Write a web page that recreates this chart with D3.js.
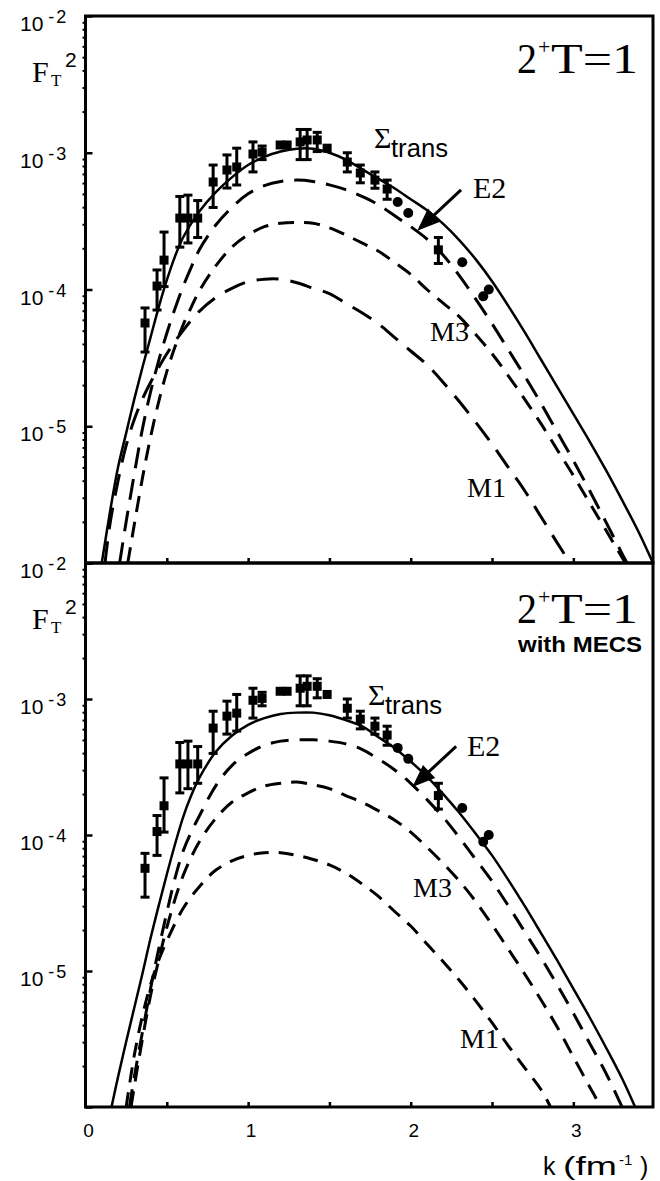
<!DOCTYPE html>
<html>
<head>
<meta charset="utf-8">
<script src="https://cdnjs.cloudflare.com/ajax/libs/d3/7.8.5/d3.min.js"></script>
<style>
body { margin: 0; background: #fff; }
</style>
</head>
<body>
<svg class="plot" width="660" height="1181"></svg>
<script>
// measured points (same data set in both panels)
var dataK  = [0.366, 0.44, 0.483, 0.58, 0.63, 0.69, 0.785, 0.87, 0.93, 1.03, 1.086, 1.197, 1.24, 1.32, 1.363, 1.425, 1.486, 1.61, 1.69, 1.78, 1.855, 1.92, 1.985, 2.17, 2.317, 2.446, 2.48];
var dataF  = [5.69e-5, 1.06e-4, 1.64e-4, 3.33e-4, 3.33e-4, 3.33e-4, 6.11e-4, 7.48e-4, 7.87e-4, 9.79e-4, 1.01e-3, 1.14e-3, 1.14e-3, 1.20e-3, 1.24e-3, 1.24e-3, 1.08e-3, 8.55e-4, 7.11e-4, 6.31e-4, 5.43e-4, 4.37e-4, 3.63e-4, 1.95e-4, 1.58e-4, 8.91e-5, 1.00e-4];
var dataHi = [7.33e-5, 1.39e-4, 2.63e-4, 4.79e-4, 4.90e-4, 4.47e-4, 8.13e-4, 9.64e-4, 1.08e-3, 1.20e-3, 1.12e-3, 1.14e-3, 1.14e-3, 1.48e-3, 1.48e-3, 1.41e-3, 1.08e-3, 1.00e-3, 8.13e-4, 7.24e-4, 6.31e-4, 4.37e-4, 3.63e-4, 2.40e-4, 1.58e-4, 8.91e-5, 1.00e-4];
var dataLo = [3.49e-5, 7.08e-5, 1.05e-4, 2.04e-4, 2.19e-4, 2.40e-4, 3.98e-4, 5.52e-4, 5.81e-4, 7.24e-4, 8.91e-4, 1.14e-3, 1.14e-3, 8.91e-4, 8.91e-4, 1.02e-3, 1.08e-3, 7.24e-4, 6.03e-4, 5.50e-4, 4.57e-4, 4.37e-4, 3.63e-4, 1.55e-4, 1.58e-4, 8.91e-5, 1.00e-4];
var dataShape = ["s","s","s","s","s","s","s","s","s","s","s","s","s","s","s","s","s","s","s","s","s","c","c","s","c","c","c"];

// upper panel curves (no MECS)
var sumTopK = [0.10, 0.15, 0.20, 0.25, 0.30, 0.35, 0.40, 0.45, 0.50, 0.55, 0.60, 0.70, 0.80, 0.90, 1.00, 1.10, 1.20, 1.30, 1.40, 1.50, 1.60, 1.70, 1.80, 1.90, 2.00, 2.10, 2.20, 2.30, 2.40, 2.50, 2.60, 2.70, 2.80, 2.90, 3.00, 3.10, 3.20, 3.30, 3.40, 3.49];
var sumTopF = [1.00e-6, 2.34e-6, 5.01e-6, 8.91e-6, 1.58e-5, 2.69e-5, 4.47e-5, 7.41e-5, 1.17e-4, 1.74e-4, 2.40e-4, 3.72e-4, 5.13e-4, 6.61e-4, 8.13e-4, 9.33e-4, 1.02e-3, 1.07e-3, 1.07e-3, 1.00e-3, 8.91e-4, 7.59e-4, 6.46e-4, 5.50e-4, 4.57e-4, 3.80e-4, 3.02e-4, 2.29e-4, 1.66e-4, 1.15e-4, 7.59e-5, 4.90e-5, 3.09e-5, 1.95e-5, 1.23e-5, 7.76e-6, 4.79e-6, 2.88e-6, 1.70e-6, 1.00e-6];

var e2TopK = [0.21, 0.25, 0.30, 0.35, 0.40, 0.45, 0.50, 0.55, 0.60, 0.65, 0.70, 0.80, 0.90, 1.00, 1.10, 1.20, 1.30, 1.40, 1.50, 1.60, 1.70, 1.80, 1.90, 2.00, 2.10, 2.20, 2.30, 2.40, 2.50, 2.60, 2.70, 2.80, 2.90, 3.00, 3.10, 3.20, 3.30, 3.33];
var e2TopF = [1.00e-6, 2.00e-6, 4.47e-6, 9.55e-6, 1.78e-5, 3.02e-5, 4.79e-5, 7.24e-5, 1.05e-4, 1.45e-4, 1.95e-4, 2.95e-4, 3.98e-4, 5.01e-4, 5.75e-4, 6.17e-4, 6.31e-4, 6.17e-4, 5.82e-4, 5.37e-4, 4.79e-4, 4.17e-4, 3.47e-4, 2.88e-4, 2.34e-4, 1.78e-4, 1.26e-4, 8.51e-5, 5.62e-5, 3.63e-5, 2.34e-5, 1.48e-5, 9.12e-6, 5.62e-6, 3.39e-6, 2.00e-6, 1.17e-6, 1.00e-6];

var m3TopK = [0.26, 0.30, 0.35, 0.40, 0.45, 0.50, 0.55, 0.60, 0.65, 0.70, 0.80, 0.90, 1.00, 1.10, 1.20, 1.30, 1.40, 1.50, 1.60, 1.70, 1.80, 1.90, 2.00, 2.10, 2.20, 2.30, 2.40, 2.50, 2.60, 2.70, 2.80, 2.90, 3.00, 3.10, 3.20, 3.32];
var m3TopF = [1.00e-6, 1.91e-6, 4.17e-6, 8.32e-6, 1.51e-5, 2.51e-5, 3.80e-5, 5.50e-5, 7.41e-5, 9.77e-5, 1.48e-4, 2.04e-4, 2.51e-4, 2.88e-4, 3.05e-4, 3.09e-4, 3.05e-4, 2.82e-4, 2.51e-4, 2.19e-4, 1.91e-4, 1.58e-4, 1.29e-4, 1.00e-4, 7.94e-5, 6.31e-5, 4.68e-5, 3.39e-5, 2.34e-5, 1.58e-5, 1.05e-5, 6.76e-6, 4.37e-6, 2.75e-6, 1.74e-6, 1.00e-6];

var m1TopK = [0.12, 0.15, 0.20, 0.25, 0.30, 0.35, 0.40, 0.50, 0.60, 0.70, 0.80, 0.90, 1.00, 1.10, 1.20, 1.30, 1.40, 1.50, 1.60, 1.70, 1.80, 1.90, 2.00, 2.10, 2.20, 2.30, 2.40, 2.50, 2.60, 2.70, 2.80, 2.90, 2.98];
var m1TopF = [1.00e-6, 1.91e-6, 3.98e-6, 7.24e-6, 1.12e-5, 1.58e-5, 2.09e-5, 3.39e-5, 5.01e-5, 6.92e-5, 8.71e-5, 1.02e-4, 1.14e-4, 1.19e-4, 1.19e-4, 1.12e-4, 1.02e-4, 9.33e-5, 7.94e-5, 6.76e-5, 5.62e-5, 4.47e-5, 3.55e-5, 2.82e-5, 2.09e-5, 1.51e-5, 1.07e-5, 7.41e-6, 5.01e-6, 3.39e-6, 2.19e-6, 1.41e-6, 1.00e-6];

// lower panel curves (with MECS)
var sumBotK = [0.16, 0.20, 0.25, 0.30, 0.35, 0.40, 0.45, 0.50, 0.55, 0.60, 0.65, 0.70, 0.80, 0.90, 1.00, 1.10, 1.20, 1.30, 1.40, 1.50, 1.60, 1.70, 1.80, 1.90, 2.00, 2.10, 2.20, 2.30, 2.40, 2.50, 2.60, 2.70, 2.80, 2.90, 3.00, 3.10, 3.20, 3.30, 3.38];
var sumBotF = [1.00e-6, 1.66e-6, 3.02e-6, 5.37e-6, 9.55e-6, 1.74e-5, 3.02e-5, 5.13e-5, 8.51e-5, 1.35e-4, 1.95e-4, 2.63e-4, 4.07e-4, 5.37e-4, 6.46e-4, 7.24e-4, 7.76e-4, 7.94e-4, 7.94e-4, 7.59e-4, 7.00e-4, 6.31e-4, 5.25e-4, 4.37e-4, 3.47e-4, 2.69e-4, 2.00e-4, 1.45e-4, 1.02e-4, 7.08e-5, 4.68e-5, 3.02e-5, 1.91e-5, 1.20e-5, 7.41e-6, 4.57e-6, 2.75e-6, 1.62e-6, 1.00e-6];

var e2BotK = [0.27, 0.30, 0.35, 0.40, 0.45, 0.50, 0.55, 0.60, 0.65, 0.70, 0.80, 0.90, 1.00, 1.10, 1.20, 1.30, 1.40, 1.50, 1.60, 1.70, 1.80, 1.90, 2.00, 2.10, 2.20, 2.30, 2.40, 2.50, 2.60, 2.70, 2.80, 2.90, 3.00, 3.10, 3.20, 3.30];
var e2BotF = [1.00e-6, 1.66e-6, 3.55e-6, 7.41e-6, 1.45e-5, 2.69e-5, 4.79e-5, 7.59e-5, 1.05e-4, 1.38e-4, 2.29e-4, 3.24e-4, 3.98e-4, 4.57e-4, 4.90e-4, 5.01e-4, 5.01e-4, 4.90e-4, 4.68e-4, 4.27e-4, 3.63e-4, 3.02e-4, 2.40e-4, 1.82e-4, 1.35e-4, 9.55e-5, 6.61e-5, 4.57e-5, 3.02e-5, 1.95e-5, 1.26e-5, 7.94e-6, 4.90e-6, 2.95e-6, 1.78e-6, 1.00e-6];

var m3BotK = [0.28, 0.30, 0.35, 0.40, 0.45, 0.50, 0.60, 0.70, 0.80, 0.90, 1.00, 1.10, 1.20, 1.30, 1.40, 1.50, 1.60, 1.70, 1.80, 1.90, 2.00, 2.10, 2.20, 2.30, 2.40, 2.50, 2.60, 2.70, 2.80, 2.90, 3.00, 3.10, 3.17];
var m3BotF = [1.00e-6, 1.41e-6, 3.16e-6, 6.61e-6, 1.20e-5, 2.09e-5, 5.01e-5, 8.91e-5, 1.32e-4, 1.74e-4, 2.04e-4, 2.29e-4, 2.40e-4, 2.45e-4, 2.34e-4, 2.19e-4, 1.95e-4, 1.74e-4, 1.51e-4, 1.29e-4, 1.05e-4, 8.13e-5, 6.17e-5, 4.57e-5, 3.24e-5, 2.19e-5, 1.45e-5, 9.55e-6, 6.17e-6, 3.89e-6, 2.34e-6, 1.41e-6, 1.00e-6];

var m1BotK = [0.25, 0.30, 0.35, 0.40, 0.45, 0.50, 0.60, 0.70, 0.80, 0.90, 1.00, 1.10, 1.20, 1.30, 1.40, 1.50, 1.60, 1.70, 1.80, 1.90, 2.00, 2.10, 2.20, 2.30, 2.40, 2.50, 2.60, 2.70, 2.80, 2.86];
var m1BotF = [1.00e-6, 2.40e-6, 4.68e-6, 7.94e-6, 1.20e-5, 1.66e-5, 2.88e-5, 4.17e-5, 5.50e-5, 6.46e-5, 7.08e-5, 7.41e-5, 7.41e-5, 7.08e-5, 6.61e-5, 6.03e-5, 5.25e-5, 4.37e-5, 3.55e-5, 2.75e-5, 2.14e-5, 1.58e-5, 1.17e-5, 8.51e-6, 6.03e-6, 4.17e-6, 2.82e-6, 1.95e-6, 1.35e-6, 1.00e-6];

// axis labels
var yMajor = [1e-2, 1e-3, 1e-4, 1e-5, 1e-6];
var yLabelsTop = ["-2", "-3", "-4", "-5", "-2"];
var yLabelsBot = ["", "-3", "-4", "-5", ""];
var xMajor = [0, 1, 2, 3];
var xLabels = ["0", "1", "2", "3"];
var xTicks = [0.5, 1, 1.5, 2, 2.5, 3];

var svg = d3.select(".plot"),
    left = 85.5, right = 653;

var x = d3.scaleLinear().domain([0, 3.49]).range([left, right]);
var yTop = d3.scaleLog().domain([1e-6, 1e-2]).range([563, 16]);
var yBot = d3.scaleLog().domain([1e-6, 1e-2]).range([1107, 563]);

var sans = "'Liberation Sans', Arial, Helvetica, sans-serif",
    serif = "'Liberation Serif', 'Times New Roman', serif";

function pts(ks, fs) {
  return ks.map(function(k, i) { return {k: k, f: fs[i]}; });
}

function drawPanel(y, id, curves, labels, e2tip, txt) {
  var top = y.range()[1], bot = y.range()[0];
  var g = svg.append("g");

  svg.append("clipPath").attr("id", id)
    .append("rect")
      .attr("x", left).attr("y", top)
      .attr("width", right - left).attr("height", bot - top);

  var line = d3.line()
      .x(function(d) { return x(d.k); })
      .y(function(d) { return y(d.f); })
      .curve(d3.curveCatmullRom.alpha(0.5));

  curves.forEach(function(c) {
    g.append("path")
        .datum(pts(c.k, c.f))
        .attr("clip-path", "url(#" + id + ")")
        .attr("fill", "none")
        .attr("stroke", "#000")
        .attr("stroke-width", c.w)
        .attr("stroke-dasharray", c.dash)
        .attr("d", line);
  });

  // error bars + markers
  var dots = g.append("g");
  dataK.forEach(function(k, i) {
    var cx = x(k), cy = y(dataF[i]);
    if (dataHi[i] != dataLo[i]) {
      dots.append("line").attr("x1", cx).attr("x2", cx)
        .attr("y1", y(dataHi[i])).attr("y2", y(dataLo[i]))
        .attr("stroke", "#000").attr("stroke-width", 3);
      [dataHi[i], dataLo[i]].forEach(function(v) {
        dots.append("line").attr("x1", cx - 4.5).attr("x2", cx + 4.5)
          .attr("y1", y(v)).attr("y2", y(v))
          .attr("stroke", "#000").attr("stroke-width", 3);
      });
    }
    if (dataShape[i] == "c")
      dots.append("circle").attr("cx", cx).attr("cy", cy).attr("r", 5).attr("fill", "#000");
    else
      dots.append("rect").attr("x", cx - 4.5).attr("y", cy - 4.5).attr("width", 9).attr("height", 9).attr("fill", "#000");
  });

  // ticks
  var minors = [];
  for (var e = -6; e < -2; e++) for (var m = 2; m < 10; m++) minors.push(m * Math.pow(10, e));

  g.append("g").attr("transform", "translate(" + left + ",0)")
      .call(d3.axisLeft(y).tickValues(minors).tickSize(3).tickFormat(""))
      .call(function(a) { a.select(".domain").remove(); a.selectAll("line").attr("stroke-width", 2); });
  g.append("g").attr("transform", "translate(" + left + ",0)")
      .call(d3.axisLeft(y).tickValues(yMajor).tickSize(-7).tickFormat(""))
      .call(function(a) { a.select(".domain").remove(); a.selectAll("line").attr("stroke-width", 2.5); });
  g.append("g").attr("transform", "translate(0," + bot + ")")
      .call(d3.axisBottom(x).tickValues(xTicks).tickSize(-5).tickFormat(""))
      .call(function(a) { a.select(".domain").remove(); a.selectAll("line").attr("stroke-width", 2.5); });

  // frame
  g.append("rect")
      .attr("x", left).attr("y", top)
      .attr("width", right - left).attr("height", bot - top)
      .attr("fill", "none").attr("stroke", "#000").attr("stroke-width", 3);

  // y tick labels
  yMajor.forEach(function(v, i) {
    if (!labels[i]) return;
    var t = svg.append("text")
        .attr("x", 20).attr("y", y(v) + 15)
        .attr("font-family", sans).attr("font-size", 21)
        .text("10");
    t.append("tspan").attr("dx", 5).attr("dy", -8).attr("font-size", 18)
        .attr("letter-spacing", 2).text(labels[i]);
  });

  // F_T^2
  var fl = svg.append("text").attr("font-family", serif).attr("fill", "#000");
  fl.append("tspan").attr("x", 32).attr("y", top + 66).attr("font-size", 30).text("F");
  fl.append("tspan").attr("x", 51).attr("y", top + 70).attr("font-size", 17).text("T");
  svg.append("text").attr("x", 65).attr("y", top + 51)
      .attr("font-family", sans).attr("font-size", 21).text("2");

  // 2+T=1
  svg.append("text").attr("x", 517).attr("y", top + txt.state)
      .attr("font-family", serif).attr("font-size", 43)
      .attr("textLength", 20).attr("lengthAdjust", "spacingAndGlyphs").text("2");
  svg.append("text").attr("x", 538).attr("y", top + txt.state - 19)
      .attr("font-family", serif).attr("font-size", 22).text("+");
  svg.append("text").attr("x", 551).attr("y", top + txt.state)
      .attr("font-family", serif).attr("font-size", 43)
      .attr("textLength", 87).attr("lengthAdjust", "spacingAndGlyphs").text("T=1");

  // Sigma_trans
  svg.append("text").attr("x", txt.sig[0]).attr("y", txt.sig[1])
      .attr("font-family", serif).attr("font-size", 30).text("\u03A3");
  svg.append("text").attr("x", txt.sig[0] + 17).attr("y", txt.sig[1] + 9)
      .attr("font-family", sans).attr("font-size", 25)
      .attr("textLength", 57).attr("lengthAdjust", "spacingAndGlyphs").text("trans");

  // curve names
  [["E2", txt.e2], ["M3", txt.m3], ["M1", txt.m1]].forEach(function(n) {
    svg.append("text").attr("x", n[1][0]).attr("y", n[1][1])
        .attr("font-family", serif).attr("font-size", n[0] == "E2" ? 30 : 28).text(n[0]);
  });

  // arrow pointing at E2
  var tx = x(e2tip[0]), ty = y(e2tip[1]);
  var ux = 0.73, uy = -0.68, px = 0.68, py = 0.73;
  g.append("line").attr("x1", tx + 15 * ux).attr("y1", ty + 15 * uy)
      .attr("x2", tx + 60 * ux).attr("y2", ty + 60 * uy)
      .attr("stroke", "#000").attr("stroke-width", 3);
  g.append("path")
      .attr("d", "M" + tx + "," + ty +
                 "L" + (tx + 23 * ux + 9 * px) + "," + (ty + 23 * uy + 9 * py) +
                 "L" + (tx + 23 * ux - 9 * px) + "," + (ty + 23 * uy - 9 * py) + "Z")
      .attr("fill", "#000");
}

drawPanel(yTop, "clipTop", [
  {k: sumTopK, f: sumTopF, w: 2.5, dash: null},
  {k: e2TopK, f: e2TopF, w: 3, dash: "21,11"},
  {k: m3TopK, f: m3TopF, w: 3, dash: "16,10"},
  {k: m1TopK, f: m1TopF, w: 3, dash: "22,12"}
], yLabelsTop, [2.04, 2.69e-4], {state: 57, sig: [374, 148], e2: [473, 198], m3: [430, 341], m1: [467, 497]});

drawPanel(yBot, "clipBot", [
  {k: sumBotK, f: sumBotF, w: 2.5, dash: null},
  {k: e2BotK, f: e2BotF, w: 3, dash: "18,11"},
  {k: m3BotK, f: m3BotF, w: 3, dash: "16,10"},
  {k: m1BotK, f: m1BotF, w: 3, dash: "15,10"}
], yLabelsBot, [2.01, 2.25e-4], {state: 60, sig: [368, 705], e2: [467, 756], m3: [413, 897], m1: [460, 1048]});

svg.append("text").attr("x", 518).attr("y", 652)
    .attr("font-family", sans).attr("font-weight", "bold").attr("font-size", 22)
    .attr("textLength", 124).attr("lengthAdjust", "spacingAndGlyphs").text("with MECS");

// x tick labels
xMajor.forEach(function(v, i) {
  svg.append("text").attr("x", x(v) + 3).attr("y", 1137)
      .attr("text-anchor", "middle")
      .attr("font-family", sans).attr("font-size", 19).text(xLabels[i]);
});

// k (fm-1)
svg.append("text").attr("x", 543).attr("y", 1175)
    .attr("font-family", sans).attr("font-size", 25).text("k");
svg.append("text").attr("x", 563).attr("y", 1175)
    .attr("font-family", sans).attr("font-size", 25)
    .attr("textLength", 54).attr("lengthAdjust", "spacingAndGlyphs").text("(fm");
svg.append("text").attr("x", 619).attr("y", 1165)
    .attr("font-family", sans).attr("font-size", 15).text("-1");
svg.append("text").attr("x", 640).attr("y", 1175)
    .attr("font-family", sans).attr("font-size", 25).text(")");
</script>
</body>
</html>
